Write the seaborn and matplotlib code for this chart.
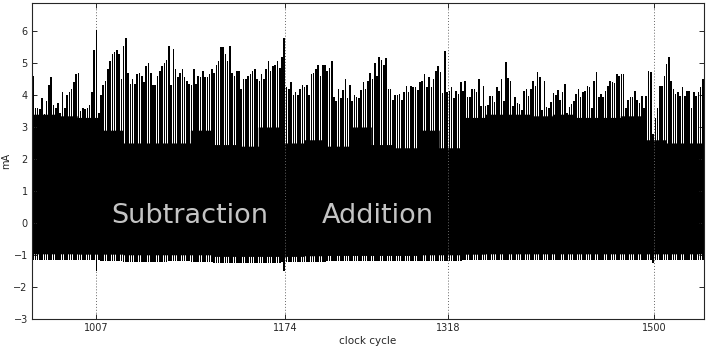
import numpy as np
import matplotlib
matplotlib.use("Agg")
import matplotlib.pyplot as plt
import seaborn as sns

# ---------------- data ----------------
# one bar (current peak) every 2 clock cycles, from 951 to 1543
cycle_start, cycle_stop, cycle_step = 951, 1543, 2

peaks_a = [4.6, 3.6, 3.6, 3.55, 3.9, 3.4, 3.8, 4.3, 4.55, 3.7,
           3.6, 3.75, 3.45, 4.1, 3.6, 4.0, 4.1, 4.2, 4.4, 4.65,
           4.7, 3.5, 3.6, 3.55, 3.6, 3.7, 4.1, 5.4]            # 951-1005
peaks_b = [6.05]                                               # 1007
peaks_c = [3.45, 4.0, 4.3, 4.45, 4.8, 5.05, 5.3, 5.35, 5.4, 5.3,
           4.5, 5.55, 5.8, 4.7, 4.35, 4.5, 4.35, 4.65, 4.7, 4.6,
           4.4, 4.9, 5.0, 4.7, 4.3, 4.3, 4.6, 4.75, 4.9, 5.0,
           5.1, 5.55, 4.3, 5.45, 4.8, 4.55, 4.7, 4.8, 4.55, 4.45,
           4.35, 4.3, 4.8, 4.35, 4.6, 4.55, 4.75, 4.55, 4.55, 4.65,
           4.8, 4.7, 4.95, 5.05, 5.5, 5.5, 5.3, 5.05, 5.55, 4.7,
           4.6, 4.75]                                          # 1009-1131
peaks_d = [4.75, 4.2, 4.5, 4.5, 4.6, 4.65, 4.75, 4.8, 4.5, 4.45,
           4.65, 4.5, 4.8, 5.05, 4.75, 4.9, 4.95, 5.05, 4.85, 5.2,
           5.8]                                                # 1133-1173
peaks_e = [4.25, 4.2, 4.4, 4.0, 4.1, 4.0, 4.2, 4.3, 4.25, 4.3,
           4.0, 4.65, 4.7, 4.8, 4.95, 4.6, 4.95, 4.95, 4.75, 4.85,
           5.05, 3.95, 3.8, 4.2, 3.9, 4.15, 4.5, 3.9, 4.3, 3.8,
           4.0, 3.95, 3.9, 4.15, 4.4, 4.2, 4.45, 4.7, 4.5, 5.0,
           4.6, 5.2, 5.1, 4.95, 5.15, 4.2, 4.2, 3.85, 4.0, 4.0]  # 1175-1273
peaks_f = [4.02, 3.84, 4.08, 4.28, 4.09, 4.28, 4.26, 4.24, 4.16, 4.42,
           4.45, 4.66, 4.24, 4.55, 4.24, 4.5, 4.75, 4.92, 4.73, 4.07,
           5.39, 4.09, 4.14, 4.24, 3.9, 4.14, 4.02, 4.42, 4.14, 4.45,
           3.95, 3.93, 4.18, 4.18, 4.09, 4.49, 3.66, 4.28, 3.66, 3.68,
           3.97, 3.97, 3.79, 4.24, 4.14, 4.5, 3.82, 5.03, 4.54, 4.44,
           3.66, 3.93, 3.76, 3.72, 3.53, 4.14, 4.18, 3.97, 4.18, 4.44,
           4.28, 4.73, 4.55, 3.53, 4.44, 3.64, 3.61, 3.79, 4.07, 4.0,
           4.16, 3.84]                                         # 1275-1417
peaks_g = [4.08, 4.33, 3.43, 3.64, 3.72, 3.82, 4.03, 4.18, 3.95, 4.08,
           4.14, 4.28, 4.24, 3.61, 4.44, 4.71, 3.95, 4.03, 3.95, 4.14,
           4.28, 4.44, 4.42, 4.39, 4.66, 4.6, 4.66, 4.66, 3.61, 3.86,
           3.93, 3.93, 4.14, 3.86, 3.76, 3.97, 3.61, 3.97, 4.75, 4.71,
           2.78, 3.27, 3.61, 4.28, 4.28, 4.6, 4.97, 5.18, 4.45, 4.19,
           4.03, 4.08, 3.97, 4.24, 3.97, 4.14, 4.14, 3.61, 4.08, 3.97,
           4.08, 4.24, 4.49]                                   # 1419-1543

# level up to which the trace is solid black (one value per 10 bars)
floor_groups = [3.4, 3.35, 3.3, 2.9, 2.5, 2.5, 2.5, 2.9, 2.45, 2.4,
                3.0, 2.5, 2.6, 2.4, 3.0, 2.45, 2.35, 2.9, 2.35, 3.3,
                3.4, 3.4, 3.35, 3.4, 3.3, 3.3, 3.35, 2.6, 2.5, 2.5]
# lower edge of the solid trace and of the individual bars (per 10 bars)
body_low_groups = [-0.97, -0.97, -0.98, -0.98, -1.0, -1.0, -1.0, -1.0, -1.05, -1.05,
                   -1.05, -1.05, -1.03, -1.02, -1.02, -1.02, -1.02, -1.0, -1.0, -0.98,
                   -0.97, -0.97, -0.97, -0.97, -0.97, -0.97, -0.97, -0.97, -0.97, -0.97]
bar_low_groups = [-1.15, -1.15, -1.17, -1.2, -1.22, -1.22, -1.2, -1.22, -1.25, -1.25,
                  -1.25, -1.24, -1.22, -1.2, -1.2, -1.2, -1.2, -1.2, -1.18, -1.15,
                  -1.15, -1.15, -1.15, -1.15, -1.15, -1.15, -1.15, -1.17, -1.17, -1.15]
dip_cycles = [1007, 1173, 1499]
dip_values = [-1.5, -1.5, -1.25]

tick_cycles = [1007, 1174, 1318, 1500]
tick_labels = ["1007", "1174", "1318", "1500"]
y_ticks = [-3, -2, -1, 0, 1, 2, 3, 4, 5, 6]

labels_text = ["Subtraction", "Addition"]
labels_x = [1020, 1206]
labels_y = [0.0, 0.0]

# ---------------- assemble ----------------
cycles = np.arange(cycle_start, cycle_stop + 1, cycle_step)
peaks = np.array(peaks_a + peaks_b + peaks_c + peaks_d + peaks_e + peaks_f + peaks_g)
n = len(cycles)
floor = np.repeat(floor_groups, 10)[:n]
body_low = np.repeat(body_low_groups, 10)[:n]
bar_low = np.repeat(bar_low_groups, 10)[:n].astype(float)
for c, v in zip(dip_cycles, dip_values):
    bar_low[np.argmin(np.abs(cycles - c))] = v

# ---------------- style ----------------
sns.set_style("ticks")
plt.rcParams["font.family"] = ["DejaVu Sans"]
plt.rcParams["axes.linewidth"] = 0.8

fig = plt.figure(figsize=(7.06, 3.51), dpi=100)
ax = fig.add_axes([0.0453, 0.092, 0.9518, 0.8994])

# solid body of the trace
ax.fill_between(cycles, body_low, floor, step="mid", color="black",
                linewidth=0, zorder=2)
# individual current peaks
sns.barplot(x=cycles, y=peaks - bar_low, bottom=bar_low, native_scale=True,
            orient="x", width=0.7, color="black", saturation=1,
            errorbar=None, linewidth=0, ax=ax, zorder=3)

ax.set_xlim(950, 1544)
ax.set_ylim(-3, 6.88)
ax.set_xticks(tick_cycles)
ax.set_xticklabels(tick_labels)
ax.set_yticks(y_ticks)
ax.tick_params(direction="in", length=3.5, width=0.7, labelsize=7,
               top=True, right=True, pad=3)
ax.grid(axis="x", linestyle=(0, (1, 2)), color="0.4", linewidth=0.7)
ax.set_axisbelow(False)
for gl in ax.get_xgridlines():
    gl.set_zorder(5)
for s in ax.spines.values():
    s.set_visible(True)
    s.set_linewidth(0.8)
    s.set_zorder(6)

ax.set_xlabel("clock cycle", fontsize=7.5, labelpad=2)
ax.set_ylabel("mA", fontsize=7)
ax.yaxis.set_label_coords(-0.031, 0.5)

for t, x, y in zip(labels_text, labels_x, labels_y):
    ax.text(x, y, t, color="#c4c4c4", fontsize=19.5, va="baseline",
            ha="left", zorder=7)

fig.savefig("out.png", dpi=100)
